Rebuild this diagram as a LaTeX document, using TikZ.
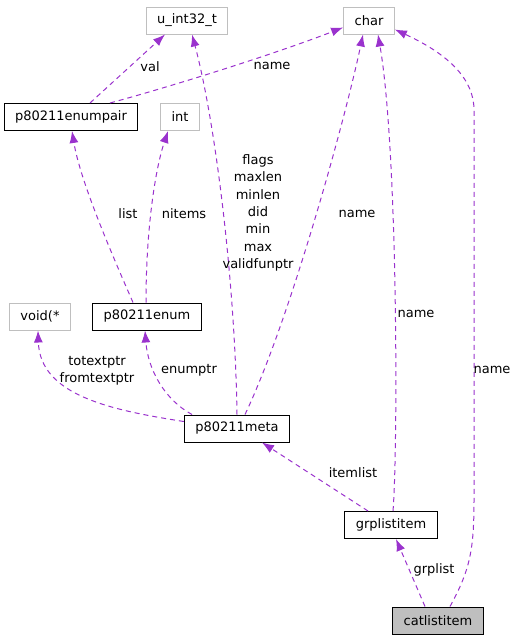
\documentclass[tikz,border=0pt]{standalone}
\usepackage{fontspec}
\setmainfont{DejaVu Sans}
\usepackage{tikz}
\usetikzlibrary{arrows.meta, positioning}

\definecolor{edgepurple}{HTML}{9A32CD}
\definecolor{boxgray}{HTML}{BFBFBF}

\tikzset{
  cls/.style={draw=black, line width=1pt, fill=white, minimum height=27pt, inner xsep=11pt, inner ysep=0pt},
  ext/.style={cls, draw=boxgray},
  cur/.style={cls, fill=boxgray},
  rel/.style={draw=edgepurple, line width=1pt, dash pattern=on 5pt off 4pt, -{Latex[length=12pt, width=9pt]}},
  lbl/.style={inner sep=0pt, align=center}
}

\begin{document}
\begin{tikzpicture}[x=1pt, y=1pt, font=\fontsize{13}{17.3}\selectfont]

  \useasboundingbox (0,0) rectangle (517,-640);

  \node[ext] (uint) at (187,-20.5) {u\_int32\_t};
  \node[ext] (char) at (369,-20.5) {char};

  \node[cls] (pair) at (71,-117) {p80211enumpair};
  \node[ext] (int) at (180,-117) {int};

  \node[ext] (void) at (40,-316.5) {void(*};
  \node[cls] (enum) at (147,-316.5) {p80211enum};

  \node[cls] (meta) at (237,-428.5) {p80211meta};

  \node[cls] (grp) at (391,-525) {grplistitem};

  \node[cur] (cat) at (438,-620.5) {catlistitem};

  \draw[rel] ([xshift=19pt]pair.north) -- ([xshift=-22pt]uint.south);
  \node[lbl] (lval) at (150,-67) {val};

  \draw[rel] ([xshift=39pt]pair.north) .. controls (180,-84) and (280,-52) .. ([yshift=-7pt]char.west);
  \node[lbl] (lpairname) at (272,-66) {name};

  \draw[rel] ([xshift=-14pt]enum.north) .. controls (110,-250) and (80,-180) .. ([xshift=1pt]pair.south);
  \node[lbl] (llist) at (128,-214) {list};

  \draw[rel] ([xshift=-1pt]enum.north) .. controls (146,-230) and (155,-170) .. ([xshift=-12pt]int.south);
  \node[lbl] (lnitems) at (184,-214) {nitems};

  \draw[rel] (meta.north) .. controls (235,-280) and (215,-120) .. ([xshift=5pt]uint.south);
  \node[lbl] (lfields) at (258,-213) {flags\\maxlen\\minlen\\did\\min\\max\\validfunptr};

  \draw[rel] ([xshift=8pt]meta.north) .. controls (290,-320) and (345,-120) .. ([xshift=-6pt]char.south);
  \node[lbl] (lmetaname) at (357,-214) {name};

  \draw[rel] ([yshift=7pt]meta.west) .. controls (110,-410) and (40,-395) .. ([xshift=-2pt]void.south);
  \node[lbl] (lptr) at (97,-370.5) {totextptr\\fromtextptr};

  \draw[rel] ([xshift=-45pt]meta.north) .. controls (165,-400) and (148,-370) .. ([xshift=-2pt]enum.south);
  \node[lbl] (lenumptr) at (189,-370) {enumptr};

  \draw[rel] ([xshift=-23pt]grp.north) -- ([xshift=25pt]meta.south);
  \node[lbl] (litemlist) at (353,-473) {itemlist};

  \draw[rel] ([xshift=2pt]grp.north) .. controls (398,-450) and (398,-150) .. ([xshift=9pt]char.south);
  \node[lbl] (lgrpname) at (416,-314) {name};

  \draw[rel] ([xshift=-13pt]cat.north) -- ([xshift=5pt]grp.south);
  \node[lbl] (lgrplist) at (434,-570) {grplist};

  \draw[rel] ([xshift=12pt]cat.north) .. controls (470,-570) and (474,-550) .. (474,-500)
    -- (474,-110) .. controls (474,-80) and (450,-55) .. ([yshift=-9pt]char.east);
  \node[lbl] (lcatname) at (492,-370) {name};

\end{tikzpicture}
\end{document}
